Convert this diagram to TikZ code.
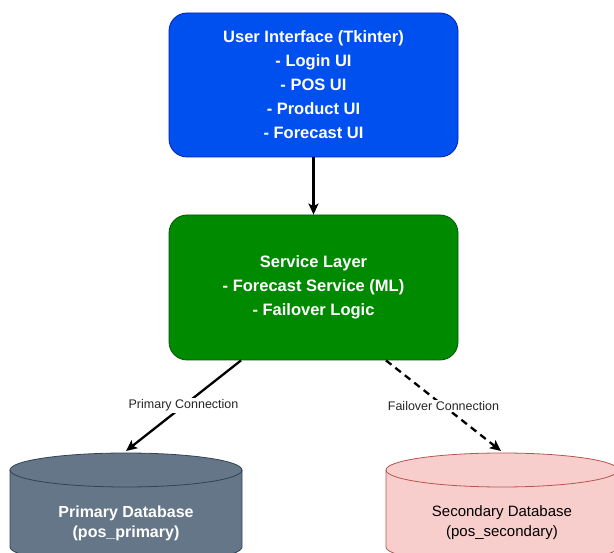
\documentclass[tikz,border=0pt]{standalone}
\usepackage{fontspec}
\setmainfont{Liberation Sans}
\usetikzlibrary{arrows.meta,calc}

\definecolor{uiblue}{HTML}{0050EF}
\definecolor{uiblueline}{HTML}{001DBC}
\definecolor{svcgreen}{HTML}{008A00}
\definecolor{svcgreenline}{HTML}{005700}
\definecolor{dbslate}{HTML}{647687}
\definecolor{dbslateline}{HTML}{314354}
\definecolor{dbpink}{HTML}{F8CECC}
\definecolor{dbpinkline}{HTML}{B85450}

\begin{document}
\begin{tikzpicture}[x=1pt,y=-1pt,
    layerbox/.style={draw, rounded corners=18pt, minimum width=289pt,
        minimum height=145pt, align=center, text=white, line width=0.8pt,
        font=\fontsize{16.5}{24}\selectfont\bfseries},
    conn/.style={line width=2.3pt, -{Stealth[length=11pt,width=10pt,inset=2.5pt]}},
    connlabel/.style={fill=white, inner sep=1.5pt, text=black!85,
        font=\fontsize{12.5}{15}\selectfont},
    dbtext/.style={align=center}]
    \useasboundingbox (0,0) rectangle (614,553);
    \clip (0,0) rectangle (614,553);

    \pgfmathsetmacro\dbtop{470};
    \pgfmathsetmacro\dbbot{547};
    \pgfmathsetmacro\rx{116};
    \pgfmathsetmacro\ry{17};

    % layers
    \node[layerbox, fill=uiblue, draw=uiblueline, minimum height=144pt] (ui)
        at (313.5,85) {User Interface (Tkinter)\\- Login UI\\- POS UI\\- Product UI\\- Forecast UI};
    \node[layerbox, fill=svcgreen, draw=svcgreenline] (svc)
        at (313.5,287.5) {Service Layer\\- Forecast Service (ML)\\- Failover Logic};

    % primary database
    \filldraw[fill=dbslate, draw=dbslateline, line width=0.8pt]
        (126-\rx,\dbtop) -- (126-\rx,\dbbot)
        arc[start angle=180, end angle=0, x radius=\rx, y radius=\ry]
        -- (126+\rx,\dbtop)
        arc[start angle=0, end angle=-180, x radius=\rx, y radius=\ry] -- cycle;
    \draw[dbslateline, line width=0.8pt] (126-\rx,\dbtop)
        arc[start angle=180, end angle=0, x radius=\rx, y radius=\ry];
    \node[dbtext, text=white, font=\fontsize{16}{20}\selectfont\bfseries] (pdb)
        at (126,523) {Primary Database\\(pos\_primary)};
    \coordinate (pdbtop) at (126,451);

    % secondary database
    \filldraw[fill=dbpink, draw=dbpinkline, line width=0.8pt]
        (502-\rx,\dbtop) -- (502-\rx,\dbbot)
        arc[start angle=180, end angle=0, x radius=\rx, y radius=\ry]
        -- (502+\rx,\dbtop)
        arc[start angle=0, end angle=-180, x radius=\rx, y radius=\ry] -- cycle;
    \draw[dbpinkline, line width=0.8pt] (502-\rx,\dbtop)
        arc[start angle=180, end angle=0, x radius=\rx, y radius=\ry];
    \node[dbtext, text=black, font=\fontsize{15}{20}\selectfont] (sdb)
        at (502,523) {Secondary Database\\(pos\_secondary)};
    \coordinate (sdbtop) at (501,451);

    % connections
    \draw[conn] (ui) -- (svc);
    \draw[conn] ($(svc.south west)!0.25!(svc.south east)$)
        -- node[connlabel] {Primary Connection} (pdbtop);
    \draw[conn, dash pattern=on 7pt off 5pt] ($(svc.south west)!0.75!(svc.south east)$)
        -- node[connlabel] {Failover Connection} (sdbtop);
\end{tikzpicture}
\end{document}
